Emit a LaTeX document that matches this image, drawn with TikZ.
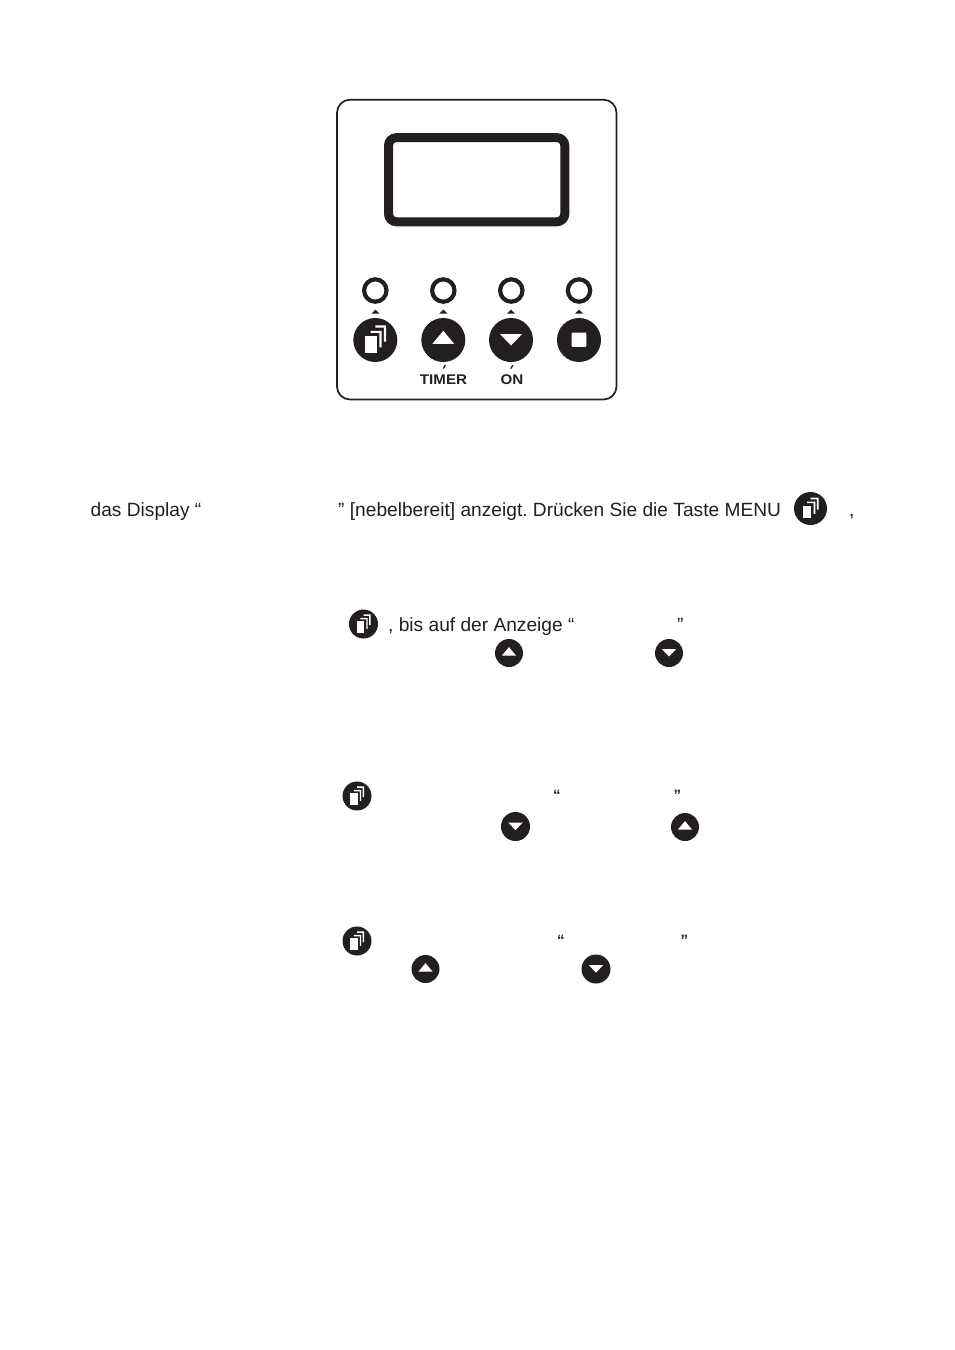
\documentclass[tikz,border=0pt]{standalone}
\usepackage{fontspec}
\setmainfont{Liberation Sans}
\newfontfamily\widesans[FakeStretch=1.08]{Liberation Sans}
\definecolor{ink}{HTML}{231F20}
\tikzset{
  body/.style={inner sep=0pt,anchor=base west,font=\fontsize{19.15}{22}\selectfont\frenchspacing,text=ink},
  smallq/.style={inner sep=0pt,anchor=base west,font=\fontsize{15}{16}\selectfont\bfseries,text=ink},
  panellabel/.style={inner sep=0pt,anchor=base,font=\fontsize{14}{16}\selectfont\widesans\bfseries,text=ink},
  led/.style={circle,draw=ink,line width=4.2pt,minimum size=22.4pt,inner sep=0pt,fill=white},
  disc/.style={circle,fill=ink,inner sep=0pt},
  glyph/.style={fill=white,draw=none},
  tick/.style={fill=ink,draw=none},
  menu/.pic={
    \fill[glyph] (0,-.66) -- (.49,-.66) -- (.49,.07) -- (.39,.07) -- (.39,-.56) -- (0,-.56) -- cycle;
    \fill[glyph] (-.21,-.42) -- (.29,-.42) -- (.29,.33) -- (.19,.33) -- (.19,-.32) -- (-.21,-.32) -- cycle;
    \fill[glyph] (-.47,-.18) rectangle (.06,.60);
  },
  uptri/.pic={\fill[glyph] (-.5,.18) -- (.5,.18) -- (0,-.42) -- cycle;},
  dntri/.pic={\fill[glyph] (-.5,-.27) -- (.5,-.27) -- (0,.25) -- cycle;},
  stopsq/.pic={\fill[glyph,rounded corners=.6pt] (-.33,-.33) rectangle (.33,.31);},
}
\newcommand{\btn}[5]{%
  \node[disc,minimum size=#4pt] (#1) at (#2,#3) {};
  \pic[xscale=#4/2,yscale=#4/2] at (#1) {#5};
}
\begin{document}
\begin{tikzpicture}[x=1pt,y=-1pt]
\useasboundingbox[fill=white] (0,0) rectangle (954,1350);
% panel
\draw[ink,line width=1.7pt,rounded corners=13pt] (337,99.7) rectangle (616.5,399.5);
\draw[ink,line width=9pt,rounded corners=8pt] (388.5,137.6) rectangle (564.8,221.8);
% LEDs
\node[led] (l1) at (375.3,290.5) {};
\node[led] (l2) at (443.3,290.5) {};
\node[led] (l3) at (511.3,290.5) {};
\node[led] (l4) at (579,290.5) {};
% ticks
\foreach \tx in {375.5,443.3,511,579}{\fill[tick] (\tx-4,313.5) -- (\tx+4,313.5) -- (\tx,309.5) -- cycle;}
% panel buttons
\btn{p1}{375.3}{340}{44}{menu}
\btn{p2}{443.3}{340}{44}{uptri}
\btn{p3}{511}{340}{44}{dntri}
\btn{p4}{579}{340}{44}{stopsq}
\fill[tick] (442.6,368.5) -- (444.6,365) -- (446,365) -- (444.2,368.5) -- cycle;
\fill[tick] (510.2,368.5) -- (512.2,365) -- (513.6,365) -- (511.8,368.5) -- cycle;
\node[panellabel] (timer) at (443.5,384.2) {TIMER};
\node[panellabel] (on) at (512,384.2) {ON};
% text
\node[body] (t1) at (90.5,516) {das Display “};
\node[body] (t2) at (338,516) {” [nebelbereit] anzeigt. Drücken Sie die Taste MENU};
\btn{b1}{810.5}{508.5}{33}{menu}
\node[body] (t3) at (849,516) {,};
\btn{b2}{363.5}{624}{29}{menu}
\node[body] (t4) at (388,631) {, bis auf der Anzeige “};
\node[body] (t5) at (677,631) {”};
\btn{b3}{509}{653}{28}{uptri}
\btn{b4}{669}{653}{28}{dntri}
\btn{b5}{357}{796}{29}{menu}
\node[smallq] (q1) at (553,800.5) {“};
\node[smallq] (q2) at (673.5,800.5) {”};
\btn{b6}{515.5}{826.5}{29}{dntri}
\btn{b7}{685}{827}{28}{uptri}
\btn{b8}{357}{941}{29}{menu}
\node[smallq] (q3) at (557,945.5) {“};
\node[smallq] (q4) at (680.5,945.5) {”};
\btn{b9}{425.5}{969}{28}{uptri}
\btn{b10}{596}{969}{29}{dntri}
\end{tikzpicture}
\end{document}
